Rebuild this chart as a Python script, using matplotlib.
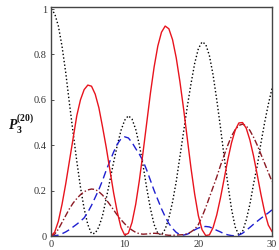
import numpy as np
import matplotlib
matplotlib.use("Agg")
import matplotlib.pyplot as plt

plt.rcParams['font.family'] = ['Liberation Serif', 'DejaVu Serif']
plt.rcParams['mathtext.fontset'] = 'custom'
plt.rcParams['mathtext.rm'] = 'Liberation Serif'
plt.rcParams['mathtext.it'] = 'Liberation Serif:italic'
plt.rcParams['mathtext.bf'] = 'Liberation Serif:bold'
plt.rcParams['mathtext.bfit'] = 'Liberation Serif:italic:bold'

# time samples (step 0.5)
t = np.arange(0, 30.01, 0.5)

red_solid = [
    0.0, 0.017, 0.065, 0.14, 0.23, 0.33, 0.43, 0.53, 0.60, 0.645,
    0.665, 0.66, 0.625, 0.565, 0.48, 0.39, 0.29, 0.19, 0.105, 0.038,
    0.004, 0.012, 0.06, 0.14, 0.246, 0.37, 0.50, 0.63, 0.745, 0.837,
    0.898, 0.925, 0.913, 0.865, 0.785, 0.68, 0.56, 0.43, 0.30, 0.185,
    0.09, 0.028, 0.002, 0.005, 0.037, 0.093, 0.167, 0.251, 0.336, 0.41,
    0.466, 0.498, 0.50, 0.475, 0.423, 0.352, 0.269, 0.183, 0.106, 0.048,
    0.02]

black_dotted = [
    1.0, 0.98, 0.925, 0.835, 0.72, 0.585, 0.455, 0.33, 0.215, 0.12,
    0.05, 0.01, 0.012, 0.04, 0.09, 0.165, 0.245, 0.325, 0.40, 0.465,
    0.51, 0.53, 0.515, 0.47, 0.40, 0.31, 0.21, 0.12, 0.05, 0.012,
    0.005, 0.03, 0.08, 0.15, 0.24, 0.35, 0.46, 0.57, 0.67, 0.76,
    0.825, 0.855, 0.845, 0.795, 0.71, 0.60, 0.48, 0.35, 0.23, 0.12,
    0.04, 0.004, 0.02, 0.07, 0.14, 0.23, 0.31, 0.41, 0.50, 0.58,
    0.65]

blue_dashed = [
    0.0, 0.001, 0.004, 0.01, 0.018, 0.028, 0.04, 0.052, 0.065, 0.08,
    0.105, 0.135, 0.17, 0.205, 0.245, 0.29, 0.33, 0.37, 0.405, 0.428,
    0.437, 0.432, 0.412, 0.385, 0.36, 0.33, 0.29, 0.245, 0.20, 0.16,
    0.12, 0.085, 0.055, 0.033, 0.016, 0.006, 0.004, 0.008, 0.016, 0.027,
    0.035, 0.04, 0.042, 0.04, 0.033, 0.025, 0.018, 0.01, 0.005, 0.002,
    0.001, 0.004, 0.012, 0.025, 0.038, 0.052, 0.065, 0.078, 0.09, 0.102,
    0.115]

darkred_dashdot = [
    0.0, 0.008, 0.03, 0.06, 0.09, 0.12, 0.145, 0.165, 0.182, 0.195,
    0.203, 0.207, 0.205, 0.195, 0.18, 0.16, 0.138, 0.115, 0.092, 0.072,
    0.054, 0.038, 0.026, 0.016, 0.01, 0.008, 0.009, 0.011, 0.012, 0.011,
    0.008, 0.005, 0.003, 0.003, 0.004, 0.005, 0.006, 0.01, 0.018, 0.03,
    0.05, 0.085, 0.125, 0.17, 0.215, 0.26, 0.31, 0.355, 0.40, 0.44,
    0.468, 0.487, 0.493, 0.485, 0.465, 0.435, 0.40, 0.36, 0.32, 0.28,
    0.24]

xticks = [0, 10, 20, 30]
yticks = [0, 0.2, 0.4, 0.6, 0.8, 1]
ytick_labels = ['0', '0.2', '0.4', '0.6', '0.8', '1']

fig = plt.figure(figsize=(2.79, 2.5), dpi=100)
ax = fig.add_axes([51/279, 14/250, 221/279, 229/250])

ax.plot(t, black_dotted, color='black', lw=1.0, linestyle=(0, (1, 1.6)))
ax.plot(t, blue_dashed, color='#1f1fd0', lw=1.0, linestyle=(0, (5.5, 3)))
ax.plot(t, darkred_dashdot, color='#8b1a24', lw=1.0,
        linestyle=(0, (4.5, 1.6, 1, 1.6)))
ax.plot(t, red_solid, color='#e8141e', lw=1.0)

ax.set_xlim(0, 30)
ax.set_ylim(0, 1.009)
ax.set_xticks(xticks)
ax.set_xticklabels([str(v) for v in xticks])
ax.set_yticks(yticks)
ax.set_yticklabels(ytick_labels)
ax.tick_params(direction='in', length=2.5, width=0.6, labelsize=7.5,
               colors='#333333', pad=3)
for s in ax.spines.values():
    s.set_color('#444444')
    s.set_linewidth(1.0)

fig.text(8/279, 1 - 124/250, r'$\mathbfit{P}_{\mathbf{3}}^{\mathbf{(20)}}$',
         fontsize=10, ha='left', va='center', color='#111111')

fig.savefig('out.png', dpi=100)
